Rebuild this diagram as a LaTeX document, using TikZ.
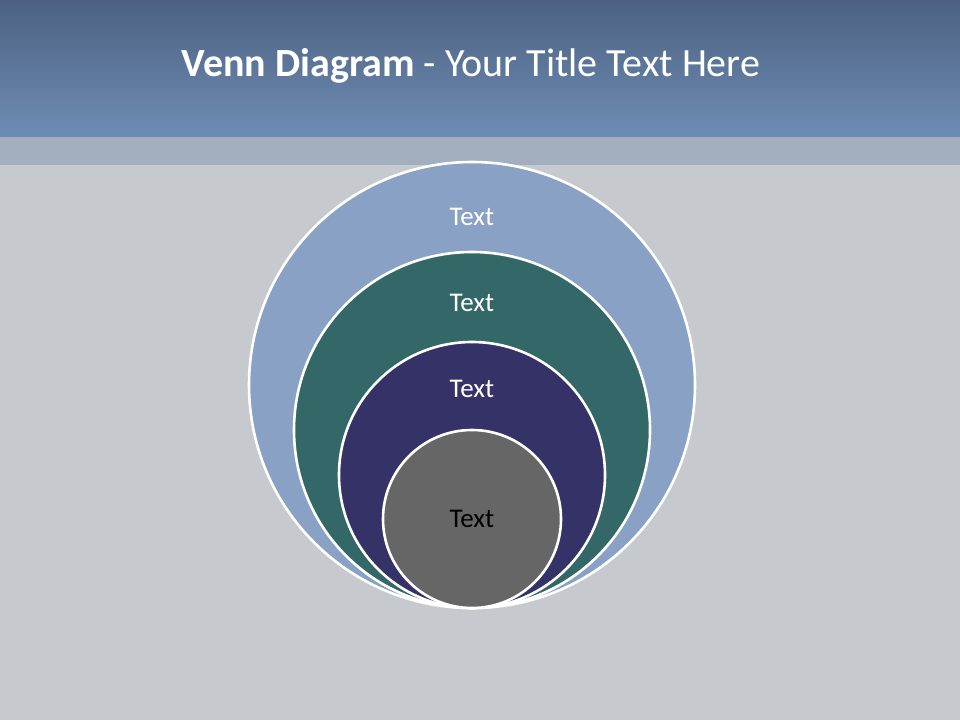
\documentclass[tikz,border=0pt]{standalone}
\usepackage{fontspec}
\setmainfont{Carlito}
\usepackage{tikz}
\usetikzlibrary{positioning}
\usepackage{xcolor}
\definecolor{headtop}{RGB}{76,97,128}
\definecolor{headbot}{RGB}{110,141,181}
\definecolor{bandgray}{RGB}{163,174,190}
\definecolor{slidegray}{RGB}{198,201,205}
\definecolor{vennblue}{RGB}{137,161,196}
\definecolor{venngreen}{RGB}{52,103,103}
\definecolor{vennnavy}{RGB}{52,50,102}
\definecolor{venngray}{RGB}{102,102,102}

\begin{document}
\begin{tikzpicture}[
    x=1pt, y=-1pt,
    ring/.style={circle, draw=white, line width=2.6pt, inner sep=0pt, outer sep=0pt},
    lbl/.style={font=\fontsize{27}{31}\selectfont, text=white, inner sep=0pt}
]
\useasboundingbox (0,0) rectangle (960,720);
% slide background
\fill[slidegray] (0,0) rectangle (960,720);
\shade[top color=headtop, bottom color=headbot] (0,0) rectangle (960,137);
\fill[bandgray] (0,137) rectangle (960,165);

\node[font=\fontsize{40}{46}\selectfont, text=white, anchor=base] (title) at (471,76)
    {\textbf{Venn Diagram} - Your Title Text Here};

% nested circles, all touching at the bottom
\node[ring, fill=vennblue, minimum size=446pt] (outer) at (472,385) {};
\node[ring, fill=venngreen, minimum size=356pt] (second) at (472,430) {};
\node[ring, fill=vennnavy, minimum size=266pt] (third) at (472,475) {};
\node[ring, fill=venngray, minimum size=178pt] (inner) at (472,519) {};

\node[lbl, below=46pt of outer.north] (outertext) {Text};
\node[lbl, below=42pt of second.north] (secondtext) {Text};
\node[lbl, below=38pt of third.north] (thirdtext) {Text};
\node[lbl, text=black] (innertext) at (inner.center) {Text};

\end{tikzpicture}
\end{document}
